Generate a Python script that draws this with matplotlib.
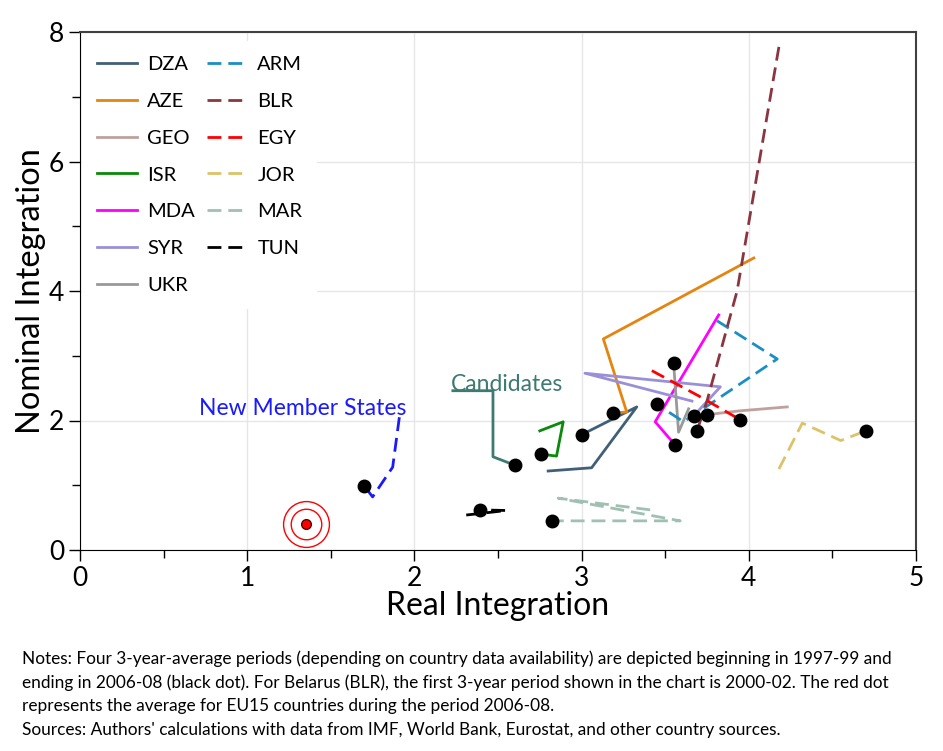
import matplotlib.pyplot as plt
import numpy as np

plt.rcParams['font.family'] = ['Lato', 'DejaVu Sans']

# country paths, first period -> last period (2006-08, black dot)
countries = ['DZA', 'AZE', 'GEO', 'ISR', 'MDA', 'SYR', 'UKR',
             'ARM', 'BLR', 'EGY', 'JOR', 'MAR', 'TUN']
real = {
    'DZA': [2.80, 3.06, 3.33, 3.00],
    'AZE': [4.03, 3.13, 3.27, 3.19],
    'GEO': [4.23, 3.95, 3.75],
    'ISR': [2.75, 2.89, 2.85, 2.76],
    'MDA': [3.82, 3.44, 3.56],
    'SYR': [3.66, 3.02, 3.83, 3.67],
    'UKR': [3.64, 3.58, 3.55],
    'ARM': [3.81, 4.17, 3.61, 3.45],
    'BLR': [4.18, 3.93, 3.75, 3.69],
    'EGY': [3.42, 3.70, 3.95],
    'JOR': [4.18, 4.32, 4.55, 4.70],
    'MAR': [3.41, 2.86, 3.59, 2.82],
    'TUN': [2.31, 2.55, 2.39],
}
nominal = {
    'DZA': [1.22, 1.27, 2.21, 1.78],
    'AZE': [4.51, 3.26, 2.13, 2.12],
    'GEO': [2.21, 2.15, 2.09],
    'ISR': [1.84, 1.98, 1.45, 1.48],
    'MDA': [3.63, 1.98, 1.62],
    'SYR': [2.30, 2.73, 2.52, 2.07],
    'UKR': [2.18, 1.82, 2.89],
    'ARM': [3.54, 2.95, 1.98, 2.25],
    'BLR': [7.77, 4.00, 2.30, 1.84],
    'EGY': [2.77, 2.38, 2.01],
    'JOR': [1.25, 1.96, 1.69, 1.84],
    'MAR': [0.62, 0.80, 0.45, 0.45],
    'TUN': [0.54, 0.61, 0.62],
}
colors = {
    'DZA': '#416078', 'AZE': '#e5850f', 'GEO': '#c0a09c', 'ISR': '#0a8a0a',
    'MDA': '#ff00ff', 'SYR': '#9a90d8', 'UKR': '#999999', 'ARM': '#1a8fc4',
    'BLR': '#8b3540', 'EGY': '#ff0000', 'JOR': '#dcc268', 'MAR': '#a0c0b4',
    'TUN': '#000000',
}
dashed = ['ARM', 'BLR', 'EGY', 'JOR', 'MAR', 'TUN']

# group averages
cand_x = [2.23, 2.47, 2.47, 2.60]
cand_y = [2.46, 2.46, 1.44, 1.31]
nms_x = [1.91, 1.87, 1.75, 1.70]
nms_y = [2.05, 1.28, 0.82, 0.99]
eu15_x, eu15_y = 1.35, 0.40

fig = plt.figure(figsize=(9.43, 7.51), dpi=100)
ax = fig.add_axes([80 / 943, 1 - 550 / 751, 836 / 943, 518 / 751])

for c in countries:
    ls = (0, (5, 2.5)) if c in dashed else '-'
    ax.plot(real[c], nominal[c], color=colors[c], lw=2, ls=ls, label=c, zorder=3)
    ax.plot(real[c][-1], nominal[c][-1], 'o', color='black', ms=9, zorder=4)

ax.plot(cand_x, cand_y, color='#3d7a72', lw=2, zorder=3)
ax.plot(cand_x[-1], cand_y[-1], 'o', color='black', ms=9, zorder=4)
ax.text(2.22, 2.40, 'Candidates', color='#3d7a72', fontsize=16.5, va='bottom')

ax.plot(nms_x, nms_y, color='#1a1aff', lw=2, ls=(0, (5, 2.5)), zorder=3)
ax.plot(nms_x[-1], nms_y[-1], 'o', color='black', ms=9, zorder=4)
ax.text(1.95, 2.02, 'New Member States', color='#1a1aff', fontsize=16.5,
        ha='right', va='bottom')

# EU15 average
ax.plot(eu15_x, eu15_y, 'o', color='red', mec='#600000', ms=7, zorder=5)
ax.plot(eu15_x, eu15_y, 'o', mfc='none', mec='red', ms=22, mew=1, zorder=5)
ax.plot(eu15_x, eu15_y, 'o', mfc='none', mec='red', ms=33, mew=1, zorder=5)

ax.set_xlim(0, 5)
ax.set_ylim(0, 8)
ax.set_xticks(np.arange(0, 6, 1))
ax.set_xticks(np.arange(0, 5.5, 0.5), minor=True)
ax.set_yticks(np.arange(0, 10, 2))
ax.set_yticks(np.arange(0, 9, 1), minor=True)
ax.grid(True, which='major', color='#e6e6e6', lw=1, zorder=0)
ax.set_axisbelow(True)
ax.tick_params(which='major', direction='out', length=8, labelsize=19, width=1)
ax.tick_params(which='minor', direction='out', length=6, width=1)
for s in ['top', 'right']:
    ax.spines[s].set_color('#404040')
    ax.spines[s].set_linewidth(1.5)
ax.set_xlabel('Real Integration', fontsize=23, labelpad=0)
ax.set_ylabel('Nominal Integration', fontsize=23.5, labelpad=2)

leg = ax.legend(ncol=2, loc='upper left', bbox_to_anchor=(0.002, 0.983),
                fontsize=14.5, frameon=True,
                facecolor='white', edgecolor='none', framealpha=1,
                handlelength=2.0, handletextpad=0.5, labelspacing=0.98,
                columnspacing=0.6, borderpad=0.75, borderaxespad=0.0)
leg.set_zorder(6)

notes = ("Notes: Four 3-year-average periods (depending on country data availability) are depicted beginning in 1997-99 and\n"
         "ending in 2006-08 (black dot). For Belarus (BLR), the first 3-year period shown in the chart is 2000-02. The red dot\n"
         "represents the average for EU15 countries during the period 2006-08.\n"
         "Sources: Authors' calculations with data from IMF, World Bank, Eurostat, and other country sources.")
fig.text(22 / 943, 1 - 650 / 751, notes, fontsize=12.4, va='top', ha='left',
         linespacing=1.57)

fig.savefig('out.png', dpi=100)
